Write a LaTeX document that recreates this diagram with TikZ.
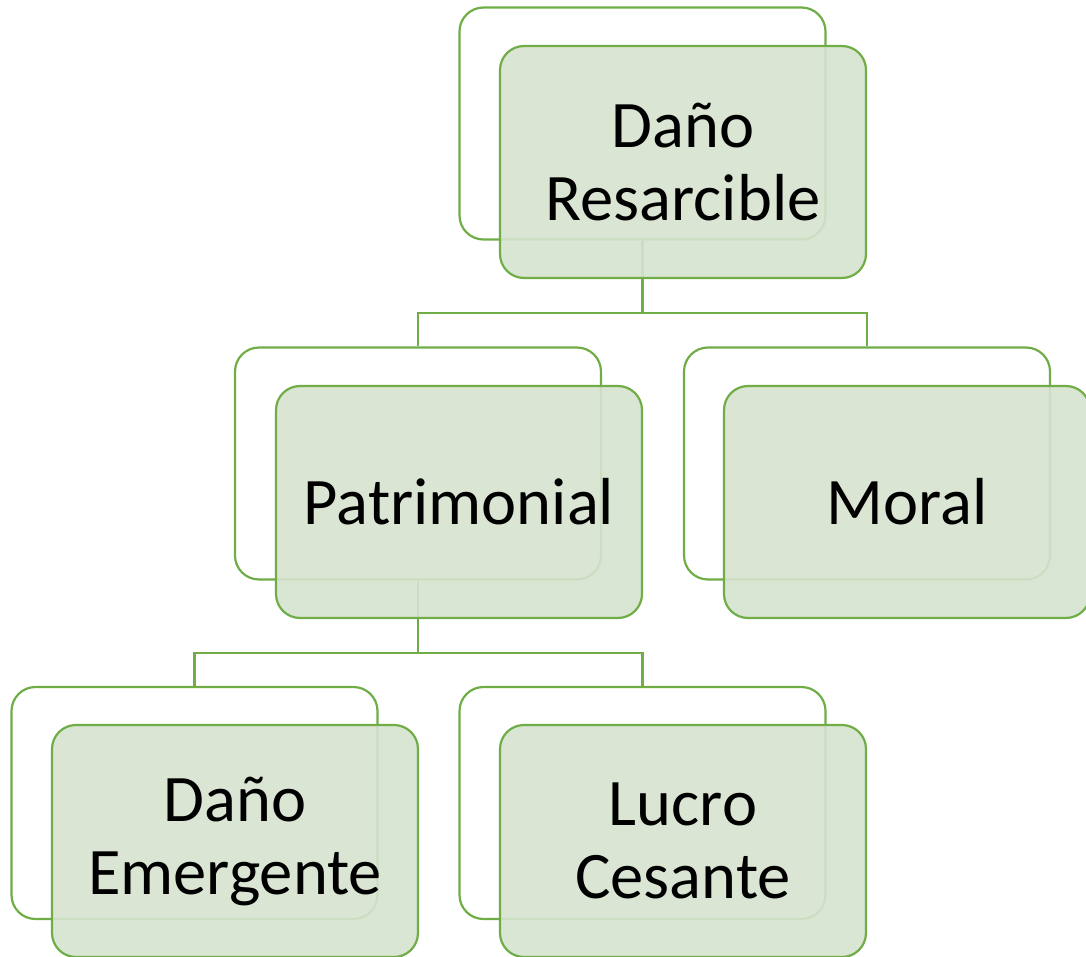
\documentclass[tikz,border=0pt]{standalone}
\usepackage{fontspec}
\setmainfont{Carlito}
\definecolor{edgegreen}{RGB}{112,173,71}
\definecolor{boxfill}{RGB}{214,227,207}
\tikzset{
  backbox/.style={draw=edgegreen, line width=2.2pt, fill=white, rounded corners=24pt,
    minimum width=366pt, minimum height=232pt, inner sep=0pt},
  frontbox/.style={draw=edgegreen, line width=2.2pt, fill=boxfill, fill opacity=0.9, text opacity=1,
    rounded corners=24pt, minimum width=366pt, minimum height=232pt, inner sep=0pt,
    align=center, font=\fontsize{66.5}{73}\selectfont},
  link/.style={draw=edgegreen, line width=2.2pt}
}
\begin{document}
\begin{tikzpicture}[x=1pt,y=-1pt]
\useasboundingbox (0,0) rectangle (1086,957);
% junction points of the connectors
\coordinate (j1) at (642.5,313);
\coordinate (j2) at (418,653);
% back boxes
\node[backbox] (topB) at (642.5,123.5) {};
\node[backbox] (patB) at (418,463.5) {};
\node[backbox] (morB) at (867,463.5) {};
\node[backbox] (emeB) at (194.5,803) {};
\node[backbox] (lucB) at (642.5,803) {};
\draw[link] (topB.south) -- (j1) -| (patB.north);
\draw[link] (j1) -| (morB.north);
\draw[link] (patB.south) -- (j2) -| (emeB.north);
\draw[link] (j2) -| (lucB.north);
% front boxes
\node[frontbox] (topF) at (683,162) {Daño\\Resarcible};
\node[frontbox] (patF) at (459,502) {Patrimonial};
\node[frontbox] (morF) at (907,502) {Moral};
\node[frontbox] (emeF) at (235,841) {Daño\\Emergente};
\node[frontbox] (lucF) at (683,841) {Lucro\\Cesante};
\end{tikzpicture}
\end{document}
